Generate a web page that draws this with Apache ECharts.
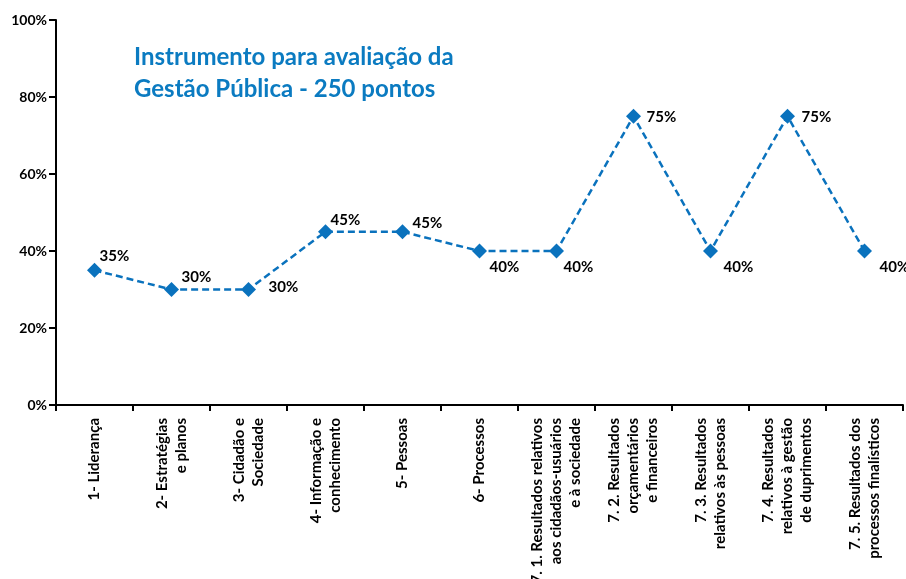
<!DOCTYPE html>
<html>
<head>
<meta charset="utf-8">
<script src="https://cdn.jsdelivr.net/npm/echarts@6/dist/echarts.min.js"></script>
<style>
  html, body { margin: 0; padding: 0; background: #fff; }
  #chart { width: 906px; height: 579px; }
</style>
</head>
<body>
<div id="chart"></div>
<script>
// categorias (criterios) e pontuacao
var categories = [
  "1- Liderança",
  "2- Estratégias\ne planos",
  "3- Cidadão e\nSociedade",
  "4- Informação e\nconhecimento",
  "5- Pessoas",
  "6- Processos",
  "7. 1. Resultados relativos\naos cidadãos-usuários\ne à sociedade",
  "7. 2. Resultados\norçamentários\ne financeiros",
  "7. 3. Resultados\nrelativos às pessoas",
  "7. 4. Resultados\nrelativos à gestão\nde duprimentos",
  "7. 5. Resultados dos\nprocessos finalísticos"
];
var values = [35, 30, 30, 45, 45, 40, 40, 75, 40, 75, 40];
var yTicks = [0, 20, 40, 60, 80, 100];
var titleText = "Instrumento para avaliação da\nGestão Pública - 250 pontos";

// deslocamento dos rotulos em relacao ao marcador [dx, dy]
var labelOffsets = [
  [5, -14], [10, -12], [20, -2], [5, -12], [10, -9], [10, 16],
  [7, 16], [13, 1], [13, 16], [14, 1], [15, 16]
];

var chart = echarts.init(document.getElementById("chart"));
var blue = "#0a72bd";
var half = 7.5;

var seriesData = values.map(function (v, i) {
  return {
    value: v,
    label: {
      position: [half + labelOffsets[i][0], half + labelOffsets[i][1]],
      align: "left",
      verticalAlign: "middle"
    }
  };
});

var option = {
  animation: false,
  textStyle: { fontFamily: "Lato" },
  title: {
    text: titleText,
    left: 134,
    top: 41,
    padding: 0,
    textStyle: {
      color: "#0b7bc1",
      fontFamily: "Lato",
      fontWeight: 700,
      fontSize: 24,
      lineHeight: 32
    }
  },
  grid: {
    left: 56,
    right: 3,
    top: 20,
    bottom: 174,
    containLabel: false,
    outerBoundsMode: "none"
  },
  xAxis: {
    type: "category",
    data: categories,
    boundaryGap: true,
    axisLine: { lineStyle: { color: "#000", width: 2 } },
    axisTick: { show: true, length: 6, lineStyle: { color: "#000", width: 2 }, alignWithLabel: false },
    axisLabel: {
      interval: 0,
      rotate: 90,
      margin: 13,
      color: "#000",
      fontFamily: "Lato",
      fontWeight: 700,
      fontSize: 15,
      lineHeight: 19
    },
    splitLine: { show: false }
  },
  yAxis: {
    type: "value",
    min: yTicks[0],
    max: yTicks[yTicks.length - 1],
    interval: 20,
    axisLine: { show: true, lineStyle: { color: "#000", width: 2 } },
    axisTick: { show: true, length: 7, lineStyle: { color: "#000", width: 2 } },
    axisLabel: {
      color: "#000",
      fontFamily: "Lato",
      fontWeight: 700,
      fontSize: 14,
      margin: 9,
      formatter: function (v) { return v + "%"; }
    },
    splitLine: { show: false }
  },
  series: [
    {
      type: "line",
      data: seriesData,
      symbol: "diamond",
      symbolSize: 15,
      itemStyle: { color: blue },
      lineStyle: { color: blue, width: 2.5, type: [7, 4] },
      label: {
        show: true,
        color: "#000",
        fontFamily: "Lato",
        fontWeight: 700,
        fontSize: 15,
        formatter: function (p) { return p.value + "%"; }
      }
    }
  ]
};

chart.setOption(option);
</script>
</body>
</html>
